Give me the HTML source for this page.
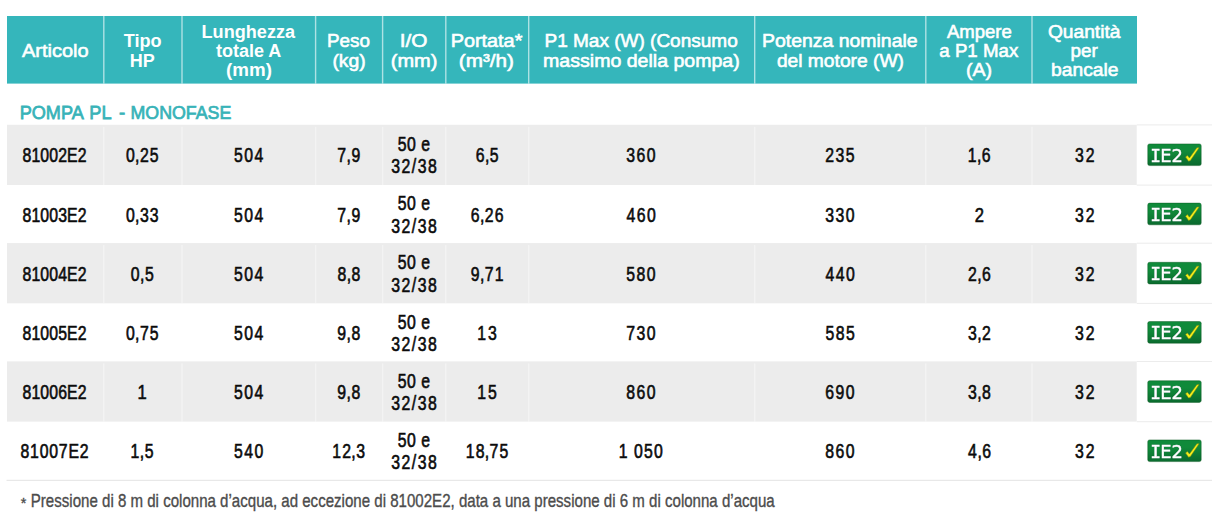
<!DOCTYPE html>
<html><head><meta charset="utf-8"><title>Pompa PL - Monofase</title>
<style>
html,body{margin:0;padding:0;background:#fff}
body{width:1214px;height:525px;position:relative;overflow:hidden;font-family:"Liberation Sans",sans-serif}
.bg{position:absolute;left:0;top:0}
.tx{position:absolute;left:0;top:0;font-family:"Liberation Sans",sans-serif}
.tx text{white-space:pre}
.h{fill:#fff;stroke:#fff;stroke-width:0.6px}
.h[font-weight="bold"]{stroke-width:0}
.t{fill:#38b3b8;stroke:#38b3b8;stroke-width:0.75px}
.d{fill:#0b0b0b;stroke:#0b0b0b;stroke-width:0.6px}
.b{fill:#fff;stroke:#fff;stroke-width:0.45px;font-family:"DejaVu Sans",sans-serif;filter:drop-shadow(0.5px 0.5px 0.3px #054a35)}
.bm{font-family:"DejaVu Sans Mono",monospace}
.f{fill:#4c4c4c;stroke:#4c4c4c;stroke-width:0.35px}
</style></head><body>
<svg class="bg" width="1214" height="525" viewBox="0 0 1214 525">
<rect x="7.0" y="16.0" width="1130.0" height="67.6" fill="#35b6bb"/>
<rect x="103.10" y="16.0" width="1.4" height="67.6" fill="#fff" fill-opacity="0.6"/>
<rect x="181.30" y="16.0" width="1.4" height="67.6" fill="#fff" fill-opacity="0.6"/>
<rect x="314.90" y="16.0" width="1.4" height="67.6" fill="#fff" fill-opacity="0.6"/>
<rect x="381.90" y="16.0" width="1.4" height="67.6" fill="#fff" fill-opacity="0.6"/>
<rect x="445.10" y="16.0" width="1.4" height="67.6" fill="#fff" fill-opacity="0.6"/>
<rect x="528.00" y="16.0" width="1.4" height="67.6" fill="#fff" fill-opacity="0.6"/>
<rect x="754.00" y="16.0" width="1.4" height="67.6" fill="#fff" fill-opacity="0.6"/>
<rect x="925.10" y="16.0" width="1.4" height="67.6" fill="#fff" fill-opacity="0.6"/>
<rect x="1031.30" y="16.0" width="1.4" height="67.6" fill="#fff" fill-opacity="0.6"/>
<rect x="7.0" y="124.8" width="1129.7" height="60.20" fill="#ececec"/>
<rect x="103.10" y="126.8" width="1.4" height="58.20" fill="#fff" fill-opacity="0.4"/>
<rect x="181.30" y="126.8" width="1.4" height="58.20" fill="#fff" fill-opacity="0.4"/>
<rect x="314.90" y="126.8" width="1.4" height="58.20" fill="#fff" fill-opacity="0.4"/>
<rect x="381.90" y="126.8" width="1.4" height="58.20" fill="#fff" fill-opacity="0.4"/>
<rect x="445.10" y="126.8" width="1.4" height="58.20" fill="#fff" fill-opacity="0.4"/>
<rect x="528.00" y="126.8" width="1.4" height="58.20" fill="#fff" fill-opacity="0.4"/>
<rect x="754.00" y="126.8" width="1.4" height="58.20" fill="#fff" fill-opacity="0.4"/>
<rect x="925.10" y="126.8" width="1.4" height="58.20" fill="#fff" fill-opacity="0.4"/>
<rect x="1031.30" y="126.8" width="1.4" height="58.20" fill="#fff" fill-opacity="0.4"/>
<rect x="7.0" y="243.1" width="1129.7" height="60.20" fill="#ececec"/>
<rect x="103.10" y="245.1" width="1.4" height="58.20" fill="#fff" fill-opacity="0.4"/>
<rect x="181.30" y="245.1" width="1.4" height="58.20" fill="#fff" fill-opacity="0.4"/>
<rect x="314.90" y="245.1" width="1.4" height="58.20" fill="#fff" fill-opacity="0.4"/>
<rect x="381.90" y="245.1" width="1.4" height="58.20" fill="#fff" fill-opacity="0.4"/>
<rect x="445.10" y="245.1" width="1.4" height="58.20" fill="#fff" fill-opacity="0.4"/>
<rect x="528.00" y="245.1" width="1.4" height="58.20" fill="#fff" fill-opacity="0.4"/>
<rect x="754.00" y="245.1" width="1.4" height="58.20" fill="#fff" fill-opacity="0.4"/>
<rect x="925.10" y="245.1" width="1.4" height="58.20" fill="#fff" fill-opacity="0.4"/>
<rect x="1031.30" y="245.1" width="1.4" height="58.20" fill="#fff" fill-opacity="0.4"/>
<rect x="7.0" y="361.4" width="1129.7" height="60.20" fill="#ececec"/>
<rect x="103.10" y="363.4" width="1.4" height="58.20" fill="#fff" fill-opacity="0.4"/>
<rect x="181.30" y="363.4" width="1.4" height="58.20" fill="#fff" fill-opacity="0.4"/>
<rect x="314.90" y="363.4" width="1.4" height="58.20" fill="#fff" fill-opacity="0.4"/>
<rect x="381.90" y="363.4" width="1.4" height="58.20" fill="#fff" fill-opacity="0.4"/>
<rect x="445.10" y="363.4" width="1.4" height="58.20" fill="#fff" fill-opacity="0.4"/>
<rect x="528.00" y="363.4" width="1.4" height="58.20" fill="#fff" fill-opacity="0.4"/>
<rect x="754.00" y="363.4" width="1.4" height="58.20" fill="#fff" fill-opacity="0.4"/>
<rect x="925.10" y="363.4" width="1.4" height="58.20" fill="#fff" fill-opacity="0.4"/>
<rect x="1031.30" y="363.4" width="1.4" height="58.20" fill="#fff" fill-opacity="0.4"/>
<rect x="1136.7" y="124.40" width="75.3" height="1" fill="#ececec"/>
<rect x="1136.7" y="184.60" width="75.3" height="1" fill="#ececec"/>
<rect x="1136.7" y="242.70" width="75.3" height="1" fill="#ececec"/>
<rect x="1136.7" y="302.90" width="75.3" height="1" fill="#ececec"/>
<rect x="1136.7" y="361.00" width="75.3" height="1" fill="#ececec"/>
<rect x="1136.7" y="421.20" width="75.3" height="1" fill="#ececec"/>
<rect x="6.5" y="479.8" width="1205.5" height="1" fill="#e3e3e3"/>
<defs><linearGradient id="bg" x1="0.45" y1="0" x2="0.55" y2="1"><stop offset="0" stop-color="#0f8a3a"/><stop offset="0.35" stop-color="#108a3a"/><stop offset="1" stop-color="#0a6a2e"/></linearGradient></defs>
<g transform="translate(1147.75 143.9)"><rect width="53.45" height="21.7" rx="1.8" fill="url(#bg)" stroke="#07561f" stroke-opacity="0.55" stroke-width="0.8"/><path transform="translate(-7.698 -8.1) scale(0.070492)" d="M646 300 L671 278 L701 314 L806 171 L838 169 L714 352 L688 360 Z" fill="#f6f01a" stroke="#7d8a14" stroke-width="8" stroke-linejoin="round"/></g>
<g transform="translate(1147.75 203.1)"><rect width="53.45" height="21.7" rx="1.8" fill="url(#bg)" stroke="#07561f" stroke-opacity="0.55" stroke-width="0.8"/><path transform="translate(-7.698 -8.1) scale(0.070492)" d="M646 300 L671 278 L701 314 L806 171 L838 169 L714 352 L688 360 Z" fill="#f6f01a" stroke="#7d8a14" stroke-width="8" stroke-linejoin="round"/></g>
<g transform="translate(1147.75 262.3)"><rect width="53.45" height="21.7" rx="1.8" fill="url(#bg)" stroke="#07561f" stroke-opacity="0.55" stroke-width="0.8"/><path transform="translate(-7.698 -8.1) scale(0.070492)" d="M646 300 L671 278 L701 314 L806 171 L838 169 L714 352 L688 360 Z" fill="#f6f01a" stroke="#7d8a14" stroke-width="8" stroke-linejoin="round"/></g>
<g transform="translate(1147.75 321.5)"><rect width="53.45" height="21.7" rx="1.8" fill="url(#bg)" stroke="#07561f" stroke-opacity="0.55" stroke-width="0.8"/><path transform="translate(-7.698 -8.1) scale(0.070492)" d="M646 300 L671 278 L701 314 L806 171 L838 169 L714 352 L688 360 Z" fill="#f6f01a" stroke="#7d8a14" stroke-width="8" stroke-linejoin="round"/></g>
<g transform="translate(1147.75 380.7)"><rect width="53.45" height="21.7" rx="1.8" fill="url(#bg)" stroke="#07561f" stroke-opacity="0.55" stroke-width="0.8"/><path transform="translate(-7.698 -8.1) scale(0.070492)" d="M646 300 L671 278 L701 314 L806 171 L838 169 L714 352 L688 360 Z" fill="#f6f01a" stroke="#7d8a14" stroke-width="8" stroke-linejoin="round"/></g>
<g transform="translate(1147.75 439.9)"><rect width="53.45" height="21.7" rx="1.8" fill="url(#bg)" stroke="#07561f" stroke-opacity="0.55" stroke-width="0.8"/><path transform="translate(-7.698 -8.1) scale(0.070492)" d="M646 300 L671 278 L701 314 L806 171 L838 169 L714 352 L688 360 Z" fill="#f6f01a" stroke="#7d8a14" stroke-width="8" stroke-linejoin="round"/></g>
</svg>
<svg class="tx" width="1214" height="525" viewBox="0 0 1214 525">
<text class="h" transform="translate(21.90 56.90) scale(1.0420 1)" font-size="19.2">Articolo</text>
<text class="h" transform="translate(123.80 47.40) scale(0.9633 1)" font-size="18.8" font-weight="bold">Tipo</text>
<text class="h" transform="translate(129.78 66.90) scale(0.9780 1)" font-size="18.4" font-weight="bold">HP</text>
<text class="h" transform="translate(201.57 37.90) scale(0.9638 1)" font-size="18.8" font-weight="bold">Lunghezza</text>
<text class="h" transform="translate(216.00 56.90) scale(0.9580 1)" font-size="18.8" font-weight="bold">totale A</text>
<text class="h" transform="translate(226.12 76.00) scale(0.9979 1)" font-size="18.8" font-weight="bold">(mm)</text>
<text class="h" transform="translate(327.03 47.40) scale(1.0020 1)" font-size="18.8">Peso</text>
<text class="h" transform="translate(332.39 66.50) scale(1.0288 1)" font-size="18.8">(kg)</text>
<text class="h" transform="translate(399.68 47.40) scale(1.1060 1)" font-size="18.8">I/O</text>
<text class="h" transform="translate(390.86 66.60) scale(1.0622 1)" font-size="18.8">(mm)</text>
<text class="h" transform="translate(450.65 47.40) scale(1.0560 1)" font-size="18.8">Portata*</text>
<text class="h" transform="translate(458.83 66.60) scale(1.1001 1)" font-size="18.8">(m³/h)</text>
<text class="h" transform="translate(544.51 47.40) scale(1.0115 1)" font-size="18.8">P1 Max (W) (Consumo</text>
<text class="h" transform="translate(543.08 66.50) scale(1.0408 1)" font-size="18.8">massimo della pompa)</text>
<text class="h" transform="translate(762.08 47.40) scale(1.0339 1)" font-size="18.8">Potenza nominale</text>
<text class="h" transform="translate(776.90 66.60) scale(1.0224 1)" font-size="18.8">del motore (W)</text>
<text class="h" transform="translate(947.00 37.90) scale(0.9852 1)" font-size="18.8">Ampere</text>
<text class="h" transform="translate(939.32 56.90) scale(0.9946 1)" font-size="18.8">a P1 Max</text>
<text class="h" transform="translate(965.98 76.00) scale(1.0428 1)" font-size="18.8">(A)</text>
<text class="h" transform="translate(1047.90 37.90) scale(1.0212 1)" font-size="18.8">Quantità</text>
<text class="h" transform="translate(1070.52 56.90) scale(1.0037 1)" font-size="18.8">per</text>
<text class="h" transform="translate(1051.10 76.00) scale(1.0232 1)" font-size="18.8">bancale</text>
<text class="t" transform="translate(19.66 118.70) scale(0.9584 1)" font-size="18.9">POMPA</text>
<text class="t" transform="translate(89.35 118.70) scale(0.9660 1)" font-size="18.9">PL</text>
<text class="t" transform="translate(118.99 118.70) scale(0.9860 1)" font-size="18.9">-</text>
<text class="t" transform="translate(130.48 118.70) scale(0.9419 1)" font-size="18.9">MONOFASE</text>
<text class="d" transform="translate(22.56 162.20) scale(0.8200 1)" font-size="19.3" letter-spacing="0.136">81002E2</text>
<text class="d" transform="translate(125.89 162.20) scale(0.8200 1)" font-size="19.3" letter-spacing="1.397">0<tspan dx="-0.9">,</tspan><tspan dx="-0.9">25</tspan></text>
<text class="d" transform="translate(234.07 162.20) scale(0.8200 1)" font-size="19.3" letter-spacing="1.803">504</text>
<text class="d" transform="translate(337.29 162.20) scale(0.8200 1)" font-size="19.3" letter-spacing="1.456">7<tspan dx="-0.9">,</tspan><tspan dx="-0.9">9</tspan></text>
<text class="d" transform="translate(475.69 162.20) scale(0.8200 1)" font-size="19.3" letter-spacing="1.456">6<tspan dx="-0.9">,</tspan><tspan dx="-0.9">5</tspan></text>
<text class="d" transform="translate(626.27 162.20) scale(0.8200 1)" font-size="19.3" letter-spacing="1.803">360</text>
<text class="d" transform="translate(825.30 162.20) scale(0.8200 1)" font-size="19.3" letter-spacing="1.768">235</text>
<text class="d" transform="translate(967.78 162.20) scale(0.8200 1)" font-size="19.3" letter-spacing="1.439">1<tspan dx="-0.9">,</tspan><tspan dx="-0.9">6</tspan></text>
<text class="d" transform="translate(1075.12 162.20) scale(0.8200 1)" font-size="19.3" letter-spacing="2.327">32</text>
<text class="d" transform="translate(397.71 150.80) scale(0.8200 1)" font-size="19.3" letter-spacing="0.624">50 e</text>
<text class="d" transform="translate(391.21 173.20) scale(0.8200 1)" font-size="19.3" letter-spacing="1.839">32/38</text>
<text class="d" transform="translate(22.56 221.50) scale(0.8200 1)" font-size="19.3" letter-spacing="0.136">81003E2</text>
<text class="d" transform="translate(125.89 221.50) scale(0.8200 1)" font-size="19.3" letter-spacing="1.397">0<tspan dx="-0.9">,</tspan><tspan dx="-0.9">33</tspan></text>
<text class="d" transform="translate(234.07 221.50) scale(0.8200 1)" font-size="19.3" letter-spacing="1.803">504</text>
<text class="d" transform="translate(337.29 221.50) scale(0.8200 1)" font-size="19.3" letter-spacing="1.456">7<tspan dx="-0.9">,</tspan><tspan dx="-0.9">9</tspan></text>
<text class="d" transform="translate(470.78 221.50) scale(0.8200 1)" font-size="19.3" letter-spacing="1.385">6<tspan dx="-0.9">,</tspan><tspan dx="-0.9">26</tspan></text>
<text class="d" transform="translate(626.38 221.50) scale(0.8200 1)" font-size="19.3" letter-spacing="1.820">460</text>
<text class="d" transform="translate(825.27 221.50) scale(0.8200 1)" font-size="19.3" letter-spacing="1.803">330</text>
<text class="d" transform="translate(974.73 221.50) scale(0.8600 1)" font-size="19.3">2</text>
<text class="d" transform="translate(1075.12 221.50) scale(0.8200 1)" font-size="19.3" letter-spacing="2.327">32</text>
<text class="d" transform="translate(397.71 210.10) scale(0.8200 1)" font-size="19.3" letter-spacing="0.624">50 e</text>
<text class="d" transform="translate(391.21 232.50) scale(0.8200 1)" font-size="19.3" letter-spacing="1.839">32/38</text>
<text class="d" transform="translate(22.56 280.80) scale(0.8200 1)" font-size="19.3" letter-spacing="0.136">81004E2</text>
<text class="d" transform="translate(130.80 280.80) scale(0.8200 1)" font-size="19.3" letter-spacing="1.474">0<tspan dx="-0.9">,</tspan><tspan dx="-0.9">5</tspan></text>
<text class="d" transform="translate(234.07 280.80) scale(0.8200 1)" font-size="19.3" letter-spacing="1.803">504</text>
<text class="d" transform="translate(337.40 280.80) scale(0.8200 1)" font-size="19.3" letter-spacing="1.474">8<tspan dx="-0.9">,</tspan><tspan dx="-0.9">8</tspan></text>
<text class="d" transform="translate(470.78 280.80) scale(0.8200 1)" font-size="19.3" letter-spacing="1.385">9<tspan dx="-0.9">,</tspan><tspan dx="-0.9">71</tspan></text>
<text class="d" transform="translate(626.27 280.80) scale(0.8200 1)" font-size="19.3" letter-spacing="1.803">580</text>
<text class="d" transform="translate(825.38 280.80) scale(0.8200 1)" font-size="19.3" letter-spacing="1.820">440</text>
<text class="d" transform="translate(967.89 280.80) scale(0.8200 1)" font-size="19.3" letter-spacing="1.456">2<tspan dx="-0.9">,</tspan><tspan dx="-0.9">6</tspan></text>
<text class="d" transform="translate(1075.12 280.80) scale(0.8200 1)" font-size="19.3" letter-spacing="2.327">32</text>
<text class="d" transform="translate(397.71 269.40) scale(0.8200 1)" font-size="19.3" letter-spacing="0.624">50 e</text>
<text class="d" transform="translate(391.21 291.80) scale(0.8200 1)" font-size="19.3" letter-spacing="1.839">32/38</text>
<text class="d" transform="translate(22.56 340.10) scale(0.8200 1)" font-size="19.3" letter-spacing="0.136">81005E2</text>
<text class="d" transform="translate(125.89 340.10) scale(0.8200 1)" font-size="19.3" letter-spacing="1.397">0<tspan dx="-0.9">,</tspan><tspan dx="-0.9">75</tspan></text>
<text class="d" transform="translate(234.07 340.10) scale(0.8200 1)" font-size="19.3" letter-spacing="1.803">504</text>
<text class="d" transform="translate(337.29 340.10) scale(0.8200 1)" font-size="19.3" letter-spacing="1.456">9<tspan dx="-0.9">,</tspan><tspan dx="-0.9">8</tspan></text>
<text class="d" transform="translate(477.30 340.10) scale(0.8200 1)" font-size="19.3" letter-spacing="2.257">13</text>
<text class="d" transform="translate(626.16 340.10) scale(0.8200 1)" font-size="19.3" letter-spacing="1.785">730</text>
<text class="d" transform="translate(825.41 340.10) scale(0.8200 1)" font-size="19.3" letter-spacing="1.785">585</text>
<text class="d" transform="translate(968.00 340.10) scale(0.8200 1)" font-size="19.3" letter-spacing="1.474">3<tspan dx="-0.9">,</tspan><tspan dx="-0.9">2</tspan></text>
<text class="d" transform="translate(1075.12 340.10) scale(0.8200 1)" font-size="19.3" letter-spacing="2.327">32</text>
<text class="d" transform="translate(397.71 328.70) scale(0.8200 1)" font-size="19.3" letter-spacing="0.624">50 e</text>
<text class="d" transform="translate(391.21 351.10) scale(0.8200 1)" font-size="19.3" letter-spacing="1.839">32/38</text>
<text class="d" transform="translate(22.56 399.20) scale(0.8200 1)" font-size="19.3" letter-spacing="0.136">81006E2</text>
<text class="d" transform="translate(137.40 399.20) scale(0.8600 1)" font-size="19.3">1</text>
<text class="d" transform="translate(234.07 399.20) scale(0.8200 1)" font-size="19.3" letter-spacing="1.803">504</text>
<text class="d" transform="translate(337.29 399.20) scale(0.8200 1)" font-size="19.3" letter-spacing="1.456">9<tspan dx="-0.9">,</tspan><tspan dx="-0.9">8</tspan></text>
<text class="d" transform="translate(477.30 399.20) scale(0.8200 1)" font-size="19.3" letter-spacing="2.257">15</text>
<text class="d" transform="translate(626.27 399.20) scale(0.8200 1)" font-size="19.3" letter-spacing="1.803">860</text>
<text class="d" transform="translate(825.16 399.20) scale(0.8200 1)" font-size="19.3" letter-spacing="1.785">690</text>
<text class="d" transform="translate(968.00 399.20) scale(0.8200 1)" font-size="19.3" letter-spacing="1.474">3<tspan dx="-0.9">,</tspan><tspan dx="-0.9">8</tspan></text>
<text class="d" transform="translate(1075.12 399.20) scale(0.8200 1)" font-size="19.3" letter-spacing="2.327">32</text>
<text class="d" transform="translate(397.71 387.80) scale(0.8200 1)" font-size="19.3" letter-spacing="0.624">50 e</text>
<text class="d" transform="translate(391.21 410.20) scale(0.8200 1)" font-size="19.3" letter-spacing="1.839">32/38</text>
<text class="d" transform="translate(20.51 458.10) scale(0.8200 1)" font-size="19.3" letter-spacing="0.970">81007E2</text>
<text class="d" transform="translate(130.58 458.10) scale(0.8200 1)" font-size="19.3" letter-spacing="1.439">1<tspan dx="-0.9">,</tspan><tspan dx="-0.9">5</tspan></text>
<text class="d" transform="translate(234.07 458.10) scale(0.8200 1)" font-size="19.3" letter-spacing="1.803">540</text>
<text class="d" transform="translate(332.27 458.10) scale(0.8200 1)" font-size="19.3" letter-spacing="1.374">12<tspan dx="-0.9">,</tspan><tspan dx="-0.9">3</tspan></text>
<text class="d" transform="translate(465.76 458.10) scale(0.8200 1)" font-size="19.3" letter-spacing="1.341">18<tspan dx="-0.9">,</tspan><tspan dx="-0.9">75</tspan></text>
<text class="d" transform="translate(618.69 458.10) scale(0.8200 1)" font-size="19.3" letter-spacing="1.350">1 050</text>
<text class="d" transform="translate(825.27 458.10) scale(0.8200 1)" font-size="19.3" letter-spacing="1.803">860</text>
<text class="d" transform="translate(968.11 458.10) scale(0.8200 1)" font-size="19.3" letter-spacing="1.491">4<tspan dx="-0.9">,</tspan><tspan dx="-0.9">6</tspan></text>
<text class="d" transform="translate(1075.12 458.10) scale(0.8200 1)" font-size="19.3" letter-spacing="2.327">32</text>
<text class="d" transform="translate(397.71 446.70) scale(0.8200 1)" font-size="19.3" letter-spacing="0.624">50 e</text>
<text class="d" transform="translate(391.21 469.10) scale(0.8200 1)" font-size="19.3" letter-spacing="1.839">32/38</text>
<text class="f" transform="translate(20.65 508.35) scale(0.9554 1)" font-size="15">*</text>
<text class="f" transform="translate(30.80 506.70) scale(0.8472 1)" font-size="17.8">Pressione di 8 m di colonna d’acqua, ad eccezione di 81002E2, data a una pressione di 6 m di colonna d’acqua</text>
<text class="b" font-size="17.9" y="161.75"><tspan class="bm" x="1150.27">I</tspan><tspan x="1160.19">E</tspan><tspan x="1171.40">2</tspan></text>
<text class="b" font-size="17.9" y="220.95"><tspan class="bm" x="1150.27">I</tspan><tspan x="1160.19">E</tspan><tspan x="1171.40">2</tspan></text>
<text class="b" font-size="17.9" y="280.15"><tspan class="bm" x="1150.27">I</tspan><tspan x="1160.19">E</tspan><tspan x="1171.40">2</tspan></text>
<text class="b" font-size="17.9" y="339.35"><tspan class="bm" x="1150.27">I</tspan><tspan x="1160.19">E</tspan><tspan x="1171.40">2</tspan></text>
<text class="b" font-size="17.9" y="398.55"><tspan class="bm" x="1150.27">I</tspan><tspan x="1160.19">E</tspan><tspan x="1171.40">2</tspan></text>
<text class="b" font-size="17.9" y="457.75"><tspan class="bm" x="1150.27">I</tspan><tspan x="1160.19">E</tspan><tspan x="1171.40">2</tspan></text>
</svg>
</body></html>
